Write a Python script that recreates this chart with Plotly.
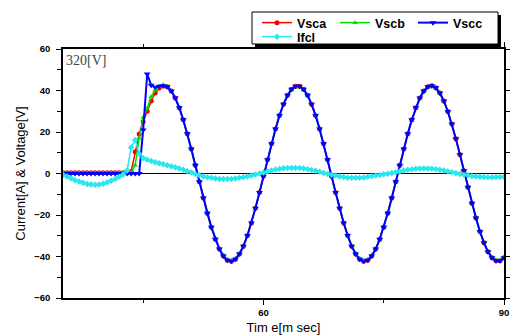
import plotly.graph_objects as go

time_ms = [35.0, 35.5, 36.0, 36.5, 37.0, 37.5, 38.0, 38.5, 39.0, 39.5,
           40.0, 40.5, 41.0, 41.5, 42.0, 42.5, 43.0, 43.5, 44.0, 44.5,
           45.0, 45.5, 46.0, 46.5, 47.0, 47.5, 48.0, 48.5, 49.0, 49.5,
           50.0, 50.5, 51.0, 51.5, 52.0, 52.5, 53.0, 53.5, 54.0, 54.5,
           55.0, 55.5, 56.0, 56.5, 57.0, 57.5, 58.0, 58.5, 59.0, 59.5,
           60.0, 60.5, 61.0, 61.5, 62.0, 62.5, 63.0, 63.5, 64.0, 64.5,
           65.0, 65.5, 66.0, 66.5, 67.0, 67.5, 68.0, 68.5, 69.0, 69.5,
           70.0, 70.5, 71.0, 71.5, 72.0, 72.5, 73.0, 73.5, 74.0, 74.5,
           75.0, 75.5, 76.0, 76.5, 77.0, 77.5, 78.0, 78.5, 79.0, 79.5,
           80.0, 80.5, 81.0, 81.5, 82.0, 82.5, 83.0, 83.5, 84.0, 84.5,
           85.0, 85.5, 86.0, 86.5, 87.0, 87.5, 88.0, 88.5, 89.0, 89.5,
           90.0]

vsca = [0.4, 0.4, 0.4, 0.4, 0.4, 0.4, 0.4, 0.4, 0.4, 0.4,
        0.4, 0.4, 0.4, 0.4, 0.4, 0.4, 0.4, 1.0, 10.5, 19.0,
        25.0, 30.0, 35.0, 38.8, 41.2, 42.2, 41.8, 39.8, 36.4, 31.7,
        25.9, 19.2, 11.8, 4.0, -4.0, -11.8, -19.2, -25.9, -31.7, -36.4,
        -39.8, -41.8, -42.3, -41.3, -38.8, -35.0, -29.9, -23.8, -16.8, -9.2,
        -1.3, 6.6, 14.3, 21.5, 28.0, 33.4, 37.7, 40.6, 42.1, 42.1,
        40.6, 37.7, 33.4, 28.0, 21.5, 14.3, 6.6, -1.3, -9.2, -16.8,
        -23.8, -29.9, -35.0, -38.8, -41.3, -42.3, -41.8, -39.8, -36.4, -31.7,
        -25.9, -19.2, -11.8, -4.0, 4.0, 11.8, 19.2, 25.9, 31.7, 36.4,
        39.8, 41.8, 42.3, 41.3, 38.8, 35.0, 29.9, 23.8, 16.8, 9.2,
        1.3, -6.6, -14.3, -21.5, -28.0, -33.4, -37.7, -40.6, -42.1, -42.1,
        -40.6]

vscb = [0.4, 0.4, 0.4, 0.4, 0.4, 0.4, 0.4, 0.4, 0.4, 0.4,
        0.4, 0.4, 0.4, 0.4, 0.4, 0.4, 0.4, 0.4, 4.0, 17.0,
        27.0, 31.5, 37.0, 40.2, 42.0, 42.8, 42.0, 39.8, 36.2, 31.5,
        25.8, 19.1, 11.7, 3.9, -4.0, -11.7, -19.0, -25.7, -31.4, -36.0,
        -39.4, -41.3, -41.8, -40.9, -38.5, -34.8, -29.8, -23.7, -16.7, -9.1,
        -1.2, 6.6, 14.2, 21.3, 27.8, 33.1, 37.3, 40.2, 41.7, 41.7,
        40.3, 37.4, 33.2, 27.9, 21.4, 14.2, 6.5, -1.3, -9.2, -16.7,
        -23.6, -29.7, -34.7, -38.4, -40.9, -41.8, -41.4, -39.5, -36.2, -31.6,
        -25.8, -19.1, -11.7, -3.9, 4.0, 11.7, 19.1, 25.7, 31.5, 36.1,
        39.4, 41.4, 41.8, 40.9, 38.5, 34.8, 29.8, 23.7, 16.7, 9.1,
        1.2, -6.6, -14.2, -21.3, -27.8, -33.1, -37.3, -40.2, -41.7, -41.7,
        -40.3]

vscc = [0.0, 0.0, 0.0, 0.0, 0.0, 0.0, 0.0, 0.0, 0.0, 0.0,
        0.0, 0.0, 0.0, 0.0, 0.0, 0.0, 0.0, 0.0, 0.0, 0.0,
        21.0, 48.0, 42.5, 41.6, 42.0, 42.3, 41.8, 39.8, 36.4, 31.7,
        25.9, 19.2, 11.8, 4.0, -4.0, -11.8, -19.2, -25.9, -31.7, -36.4,
        -39.8, -41.8, -42.3, -41.3, -38.8, -35.0, -29.9, -23.8, -16.8, -9.2,
        -1.3, 6.6, 14.3, 21.5, 28.0, 33.4, 37.7, 40.6, 42.1, 42.1,
        40.6, 37.7, 33.4, 28.0, 21.5, 14.3, 6.6, -1.3, -9.2, -16.8,
        -23.8, -29.9, -35.0, -38.8, -41.3, -42.3, -41.8, -39.8, -36.4, -31.7,
        -25.9, -19.2, -11.8, -4.0, 4.0, 11.8, 19.2, 25.9, 31.7, 36.4,
        39.8, 41.8, 42.3, 41.3, 38.8, 35.0, 29.9, 23.8, 16.8, 9.2,
        1.3, -6.6, -14.3, -21.5, -28.0, -33.4, -37.7, -40.6, -42.1, -42.1,
        -40.6]

ifcl = [-0.6, -1.4, -2.3, -3.2, -3.9, -4.5, -5.0, -5.3, -5.4, -5.3,
        -4.9, -4.3, -3.5, -2.6, -1.6, -0.5, 1.5, 12.5, 16.2, 9.5,
        7.5, 6.6, 6.0, 5.4, 4.9, 4.5, 4.0, 3.5, 3.0, 2.4,
        1.8, 1.1, 0.5, -0.2, -0.8, -1.3, -1.8, -2.1, -2.4, -2.6,
        -2.7, -2.7, -2.6, -2.4, -2.1, -1.8, -1.4, -1.0, -0.5, 0.0,
        0.5, 1.0, 1.5, 1.9, 2.2, 2.5, 2.6, 2.7, 2.7, 2.6,
        2.4, 2.1, 1.7, 1.3, 0.8, 0.3, -0.2, -0.6, -1.0, -1.4,
        -1.7, -2.0, -2.1, -2.1, -2.0, -1.9, -1.6, -1.3, -1.0, -0.7,
        -0.4, -0.1, 0.2, 0.6, 1.0, 1.4, 1.8, 2.1, 2.3, 2.4,
        2.4, 2.4, 2.3, 2.1, 1.8, 1.4, 1.0, 0.6, 0.2, -0.2,
        -0.6, -0.9, -1.2, -1.4, -1.6, -1.7, -1.8, -1.8, -1.7, -1.7,
        -1.6]

series_names = ["Vsca", "Vscb", "Vscc", "Ifcl"]
x_ticks = [60, 90]
y_ticks = [-60, -40, -20, 0, 20, 40, 60]

W, H = 510, 336
ML, MR, MT, MB = 63, 6, 49, 38
PW, PH = W - ML - MR, H - MT - MB


def px_x(p):
    return (p - ML) / PW


def px_y(p):
    return (H - MB - p) / PH


FONT = "Liberation Sans, Arial, sans-serif"

fig = go.Figure()
styles = [
    dict(color="#ff0000", symbol="circle", size=5, width=1.5, legend="legend"),
    dict(color="#00e000", symbol="triangle-up", size=5, width=1.5, legend="legend"),
    dict(color="#0000ff", symbol="triangle-down", size=6, width=2, legend="legend"),
    dict(color="#2ae6ee", symbol="diamond", size=5, width=1.5, legend="legend2"),
]
for name, ys, st in zip(series_names, [vsca, vscb, vscc, ifcl], styles):
    fig.add_trace(go.Scatter(
        x=time_ms, y=ys, name=name, mode="lines+markers",
        line=dict(color=st["color"], width=st["width"]),
        marker=dict(color=st["color"], symbol=st["symbol"], size=st["size"],
                    line=dict(width=0)),
        legend=st["legend"],
    ))

tickfont = dict(family=FONT, size=9.5, color="black", weight="bold")
legfont = dict(family=FONT, size=12.5, color="black", weight="bold")

fig.update_layout(
    width=W, height=H,
    margin=dict(l=ML, r=MR, t=MT, b=MB, pad=0, autoexpand=False),
    paper_bgcolor="white", plot_bgcolor="white",
    showlegend=True,
    legend=dict(orientation="h", x=px_x(257), y=px_y(8), xanchor="left", yanchor="top",
                bgcolor="rgba(0,0,0,0)", borderwidth=0, entrywidth=33,
                font=legfont, traceorder="normal", itemwidth=30),
    legend2=dict(orientation="h", x=px_x(257), y=px_y(22), xanchor="left", yanchor="top",
                 bgcolor="rgba(0,0,0,0)", borderwidth=0, font=legfont, itemwidth=30),
    xaxis=dict(range=[35, 90], tickmode="array", tickvals=x_ticks, automargin=False,
               ticks="outside", ticklen=5, tickwidth=1.3, tickcolor="black",
               showline=True, linecolor="black", linewidth=1.5, mirror="allticks",
               showgrid=False, zeroline=False, tickfont=tickfont,
               minor=dict(dtick=15, tick0=0, ticks="outside", ticklen=3, tickwidth=1.2,
                          tickcolor="black", showgrid=False),
               title=dict(text="Tim e[m sec]", standoff=6,
                          font=dict(family=FONT, size=13, color="black"))),
    yaxis=dict(range=[-60, 60], tickmode="array", tickvals=y_ticks, automargin=False,
               ticks="outside", ticklen=5, tickwidth=1.3, tickcolor="black",
               showline=True, linecolor="black", linewidth=1.5, mirror="allticks",
               showgrid=False, zeroline=True, zerolinecolor="black", zerolinewidth=1.3,
               tickfont=tickfont, ticklabelstandoff=4,
               minor=dict(dtick=10, tick0=0, ticks="outside", ticklen=4, tickwidth=1.2,
                          tickcolor="black", showgrid=False),
               title=dict(text="Current[A] & Voltage[V]", standoff=6,
                          font=dict(family=FONT, size=13, color="black"))),
    shapes=[
        dict(type="rect", xref="paper", yref="paper",
             x0=px_x(255), x1=px_x(501), y0=px_y(47), y1=px_y(15),
             fillcolor="black", line=dict(width=0), layer="above"),
        dict(type="rect", xref="paper", yref="paper",
             x0=px_x(252), x1=px_x(498), y0=px_y(44), y1=px_y(12),
             fillcolor="white", line=dict(color="black", width=1), layer="above"),
    ],
    annotations=[
        dict(text="320[V]", xref="paper", yref="paper", x=px_x(64), y=px_y(51),
             xanchor="left", yanchor="top", showarrow=False,
             font=dict(family="Liberation Serif, Times New Roman, serif", size=14,
                       color="#444444")),
    ],
)

fig.write_html("out.html",
               config={"displayModeBar": False, "displaylogo": False},
               post_script="document.body.style.margin='0';document.body.style.padding='0';")
